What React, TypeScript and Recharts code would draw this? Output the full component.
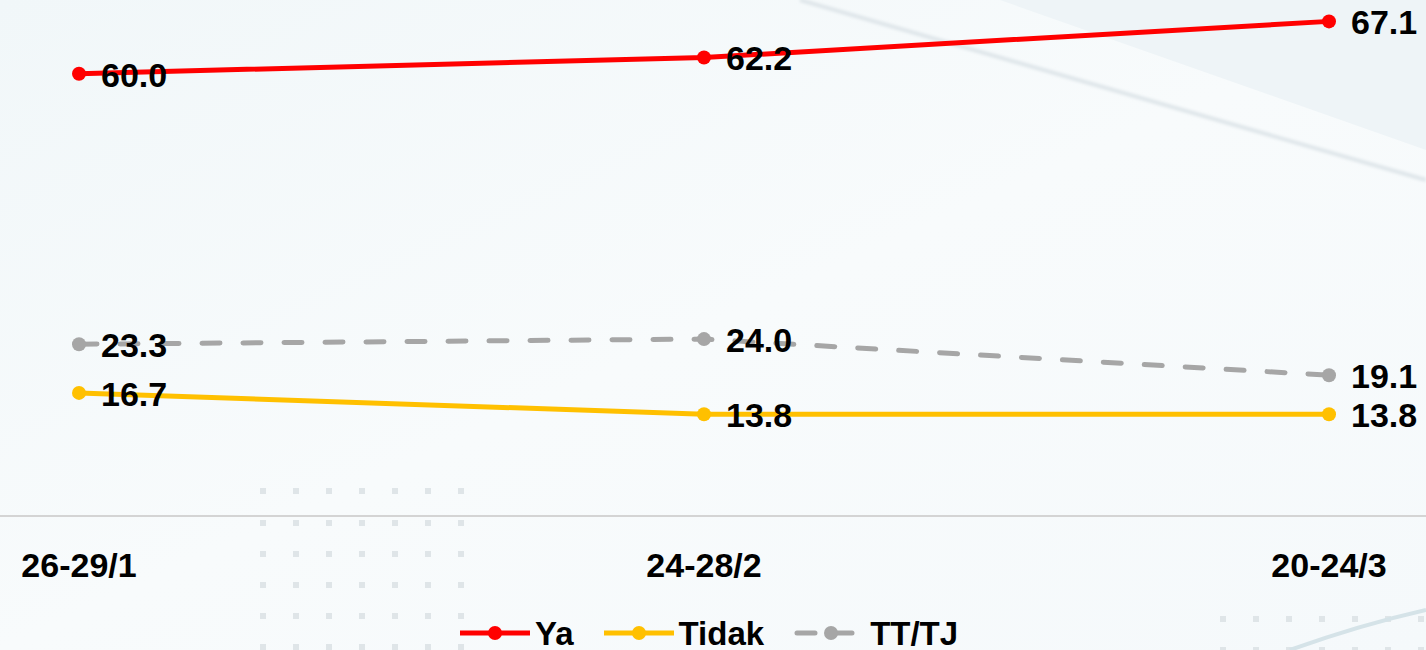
import React from 'react';
import { LineChart, Line, XAxis, YAxis, LabelList, Legend } from 'recharts';

const categories = ['26-29/1', '24-28/2', '20-24/3'];
const yaValues = [60.0, 62.2, 67.1];
const tidakValues = [16.7, 13.8, 13.8];
const tttjValues = [23.3, 24.0, 19.1];

const seriesNames = { ya: 'Ya', tidak: 'Tidak', tttj: 'TT/TJ' };
const colors = { ya: '#ff0000', tidak: '#ffc000', tttj: '#a6a6a6' };

const data = categories.map((c, i) => ({
  name: c,
  ya: yaValues[i],
  tidak: tidakValues[i],
  tttj: tttjValues[i],
}));

const FONT = "'Liberation Sans', Arial, sans-serif";

const renderLabel = (props: any) => {
  const { x, y, value } = props;
  if (x == null || y == null) return null;
  return (
    <text
      x={Number(x) + 22}
      y={Number(y) + 13}
      fontFamily={FONT}
      fontWeight="bold"
      fontSize={34}
      fill="#000"
      textAnchor="start"
    >
      {Number(value).toFixed(1)}
    </text>
  );
};

const makeDot = (color: string) => (props: any) => {
  const { cx, cy, index } = props;
  if (cx == null || cy == null) return <g key={`d-${index}`} />;
  return <circle key={`d-${color}-${index}`} cx={cx} cy={cy} r={7} fill={color} stroke="none" />;
};

const Tick = (props: any) => {
  const { x, y, payload } = props;
  return (
    <text
      x={x}
      y={y + 60.5}
      textAnchor="middle"
      fontFamily={FONT}
      fontWeight="bold"
      fontSize={34}
      fill="#000"
    >
      {payload.value}
    </text>
  );
};

const LegendIcon = ({ color, dashed }: { color: string; dashed?: boolean }) => (
  <svg width={70} height={16} style={{ display: 'block' }}>
    {dashed ? (
      <line x1={3} y1={8} x2={64} y2={8} stroke={color} strokeWidth={5} strokeDasharray="18 19" strokeLinecap="round" />
    ) : (
      <line x1={0} y1={8} x2={70} y2={8} stroke={color} strokeWidth={5} />
    )}
    <circle cx={dashed ? 37 : 35} cy={8} r={7} fill={color} />
  </svg>
);

const CustomLegend = () => {
  const keys: Array<keyof typeof seriesNames> = ['ya', 'tidak', 'tttj'];
  return (
    <div style={{ display: 'flex', alignItems: 'center', height: 46, paddingLeft: 460 }}>
      {keys.map((k) => (
        <div key={k} style={{ display: 'flex', alignItems: 'center', marginRight: 30 }}>
          <LegendIcon color={colors[k]} dashed={k === 'tttj'} />
          <span
            style={{
              marginLeft: k === 'tttj' ? 6 : 5,
              fontFamily: FONT,
              fontWeight: 'bold',
              fontSize: 33,
              lineHeight: '33px',
              color: '#000',
            }}
          >
            {seriesNames[k]}
          </span>
        </div>
      ))}
    </div>
  );
};

const dotCols = [263, 296, 329, 362, 395, 428, 461];
const dotRows = [491, 523, 554, 585, 616, 647];
const dotCols2 = [1223, 1256, 1289, 1322, 1355, 1388, 1421];
const dotRows2 = [619, 650];

const Background = () => (
  <svg width={1426} height={650} style={{ position: 'absolute', left: 0, top: 0 }}>
    <defs>
      <linearGradient id="bg" x1="0" y1="0" x2="1" y2="1">
        <stop offset="0%" stopColor="#f1f7f9" />
        <stop offset="50%" stopColor="#f8fbfc" />
        <stop offset="100%" stopColor="#f5f9fb" />
      </linearGradient>
      <filter id="blur" x="-10%" y="-10%" width="120%" height="120%">
        <feGaussianBlur stdDeviation="1.5" />
      </filter>
    </defs>
    <rect x={0} y={0} width={1426} height={650} fill="url(#bg)" />
    <polygon points="1000,0 1426,0 1426,150" fill="#eef4f7" />
    <line x1={800} y1={0} x2={1426} y2={180} stroke="#dfe6ea" strokeWidth={4} filter="url(#blur)" />
    {dotRows.map((ry) =>
      dotCols.map((cx) => <rect key={`${cx}-${ry}`} x={cx - 3} y={ry - 3} width={6} height={6} fill="#dfe5e8" />)
    )}
    {dotRows2.map((ry) =>
      dotCols2.map((cx) => <rect key={`b${cx}-${ry}`} x={cx - 3} y={ry - 3} width={6} height={6} fill="#dfe5e8" />)
    )}
    <path d="M1290,650 Q1360,625 1426,610" stroke="#d5e3e8" strokeWidth={4} fill="none" />
  </svg>
);

export default function App() {
  return (
    <div style={{ position: 'absolute', left: 0, top: 0, width: 1426, height: 650 }}>
      <Background />
      <div style={{ position: 'absolute', left: 0, top: 0 }}>
        <LineChart width={1426} height={650} data={data} margin={{ top: 0, right: 0, bottom: 74, left: 0 }}>
          <XAxis
            dataKey="name"
            scale="point"
            padding={{ left: 79, right: 97 }}
            height={60}
            axisLine={{ stroke: '#d4d4d4', strokeWidth: 2 }}
            tickLine={false}
            tickSize={0}
            tickMargin={0}
            tick={<Tick />}
            interval={0}
          />
          <YAxis hide domain={[0, 70]} />
          <Legend
            layout="horizontal"
            verticalAlign="middle"
            align="center"
            wrapperStyle={{ left: 0, top: 610, width: 1426 }}
            content={() => <CustomLegend />}
          />
          <Line
            dataKey="tidak"
            stroke={colors.tidak}
            strokeWidth={5}
            dot={makeDot(colors.tidak)}
            activeDot={false}
            isAnimationActive={false}
          >
            <LabelList dataKey="tidak" content={renderLabel} />
          </Line>
          <Line
            dataKey="tttj"
            stroke={colors.tttj}
            strokeWidth={5}
            strokeDasharray="18 23"
            strokeLinecap="round"
            dot={makeDot(colors.tttj)}
            activeDot={false}
            isAnimationActive={false}
          >
            <LabelList dataKey="tttj" content={renderLabel} />
          </Line>
          <Line
            dataKey="ya"
            stroke={colors.ya}
            strokeWidth={5}
            dot={makeDot(colors.ya)}
            activeDot={false}
            isAnimationActive={false}
          >
            <LabelList dataKey="ya" content={renderLabel} />
          </Line>
        </LineChart>
      </div>
    </div>
  );
}
